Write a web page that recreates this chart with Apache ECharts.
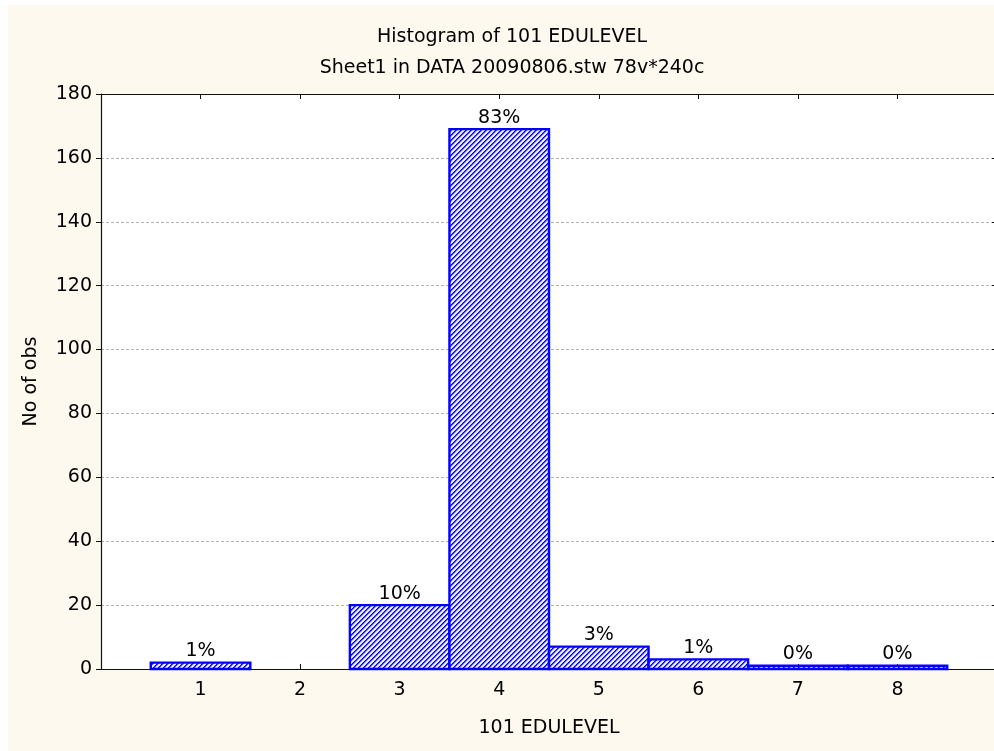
<!DOCTYPE html>
<html><head><meta charset="utf-8">
<script src="https://cdn.jsdelivr.net/npm/echarts@6/dist/echarts.min.js"></script>
<style>
html,body{margin:0;padding:0;background:#ffffff;}
#bg{position:absolute;left:8px;top:5px;width:986px;height:746px;background:#fdf9ee;}
#c{position:absolute;left:0;top:0;width:994px;height:751px;}
</style>
</head><body><div id="bg"></div><div id="c"></div>
<script>
// ---- data ----
const categories = [1, 2, 3, 4, 5, 6, 7, 8];
const counts = [2, 0, 20, 169, 7, 3, 1, 1];
const yTickLabels = [0, 20, 40, 60, 80, 100, 120, 140, 160, 180];
const titleLines = ['Histogram of 101 EDULEVEL', 'Sheet1 in DATA 20090806.stw 78v*240c'];
const xAxisName = '101 EDULEVEL';
const yAxisName = 'No of obs';

const total = counts.reduce((a, b) => a + b, 0);
const pctLabels = counts.map(v => v > 0 ? Math.round(v / total * 100) + '%' : '');

// ---- hatch pattern ----
const P = 5;
const tile = document.createElement('canvas');
tile.width = P; tile.height = P;
const tctx = tile.getContext('2d');
const shades = ['#0000ff', '#4848ff', '#c4c4ff', '#ffffff', '#d8d8ff'];
for (let x = 0; x < P; x++) {
  for (let y = 0; y < P; y++) {
    tctx.fillStyle = shades[(x + y) % P];
    tctx.fillRect(x, y, 1, 1);
  }
}
const hatch = { image: tile, repeat: 'repeat' };

const FONT = '"DejaVu Sans", sans-serif';
const FS = 19;

const chart = echarts.init(document.getElementById('c'), null, { renderer: 'canvas' });
const yMin = yTickLabels[0], yMax = yTickLabels[yTickLabels.length - 1];
const yInt = yTickLabels[1] - yTickLabels[0];
const xMin = categories[0] - 1, xMax = categories[categories.length - 1] + 1;

chart.setOption({
  backgroundColor: 'transparent',
  animation: false,
  graphic: titleLines.map((t, i) => ({
    type: 'text',
    x: 512, y: 37 + i * 31,
    style: {
      text: t, font: FS + 'px ' + FONT, fill: '#000',
      align: 'center', verticalAlign: 'middle',
      textAlign: 'center', textVerticalAlign: 'middle'
    }
  })),
  grid: {
    left: 101, top: 94, width: 896, height: 575,
    show: true, backgroundColor: '#ffffff', borderWidth: 0,
    containLabel: false, outerBoundsMode: 'none'
  },
  xAxis: [{
    type: 'value', position: 'bottom', min: xMin, max: xMax, interval: 1,
    axisLine: { show: true, onZero: false, lineStyle: { color: '#111', width: 1.2 } },
    axisTick: { show: true, inside: true, length: 5, lineStyle: { color: '#111' } },
    axisLabel: {
      margin: 12, color: '#000', fontSize: FS, fontFamily: FONT,
      formatter: v => categories.indexOf(v) >= 0 ? String(v) : ''
    },
    splitLine: { show: false },
    name: xAxisName, nameLocation: 'middle', nameGap: 50,
    nameTextStyle: { color: '#000', fontSize: FS, fontFamily: FONT }
  }, {
    type: 'value', position: 'top', min: xMin, max: xMax, interval: 1,
    axisLine: { show: true, onZero: false, lineStyle: { color: '#111', width: 1.2 } },
    axisTick: { show: true, inside: true, length: 5, lineStyle: { color: '#111' } },
    axisLabel: { show: false }, splitLine: { show: false }
  }],
  yAxis: [{
    type: 'value', position: 'left', min: yMin, max: yMax, interval: yInt,
    axisLine: { show: true, onZero: false, lineStyle: { color: '#111', width: 1.2 } },
    axisTick: { show: true, inside: false, length: 5, lineStyle: { color: '#111' } },
    axisLabel: { margin: 9, color: '#000', fontSize: FS, fontFamily: FONT },
    splitLine: { show: true, lineStyle: { color: '#b4b4b4', type: [3, 2], width: 1 } },
    name: yAxisName, nameLocation: 'middle', nameGap: 60, nameRotate: 90,
    nameTextStyle: { color: '#000', fontSize: FS, fontFamily: FONT }
  }, {
    type: 'value', position: 'right', min: yMin, max: yMax, interval: yInt,
    axisLine: { show: true, onZero: false, lineStyle: { color: '#111', width: 1.2 } },
    axisTick: { show: true, inside: true, length: 5, lineStyle: { color: '#111' } },
    axisLabel: { show: false }, splitLine: { show: false }
  }],
  series: [{
    type: 'custom',
    xAxisIndex: 0, yAxisIndex: 0,
    data: categories.map((c, i) => [c, counts[i]]),
    renderItem: function (params, api) {
      const x = api.value(0), y = api.value(1);
      const p0 = api.coord([x - 0.5, 0]);
      const p1 = api.coord([x + 0.5, y]);
      const children = [];
      if (y > 0) {
        children.push({
          type: 'rect',
          shape: { x: p0[0], y: p1[1], width: p1[0] - p0[0], height: p0[1] - p1[1] },
          style: { fill: hatch, stroke: '#0000ff', lineWidth: 2.4 }
        });
      }
      const lbl = pctLabels[params.dataIndex];
      if (lbl) {
        children.push({
          type: 'text',
          x: (p0[0] + p1[0]) / 2, y: p1[1] - 2,
          style: {
            text: lbl, font: FS + 'px ' + FONT, fill: '#000',
            align: 'center', verticalAlign: 'bottom',
            textAlign: 'center', textVerticalAlign: 'bottom'
          }
        });
      }
      return { type: 'group', children: children };
    }
  }]
});
</script>
</body></html>
